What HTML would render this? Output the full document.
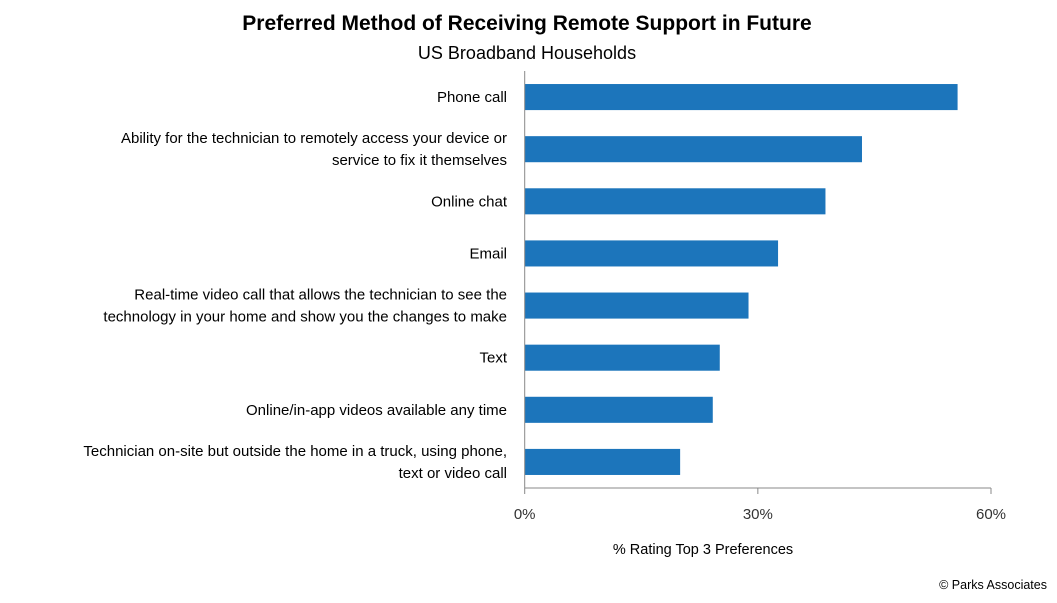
<!DOCTYPE html>
<html><head><meta charset="utf-8"><style>
body{margin:0;background:#fff;width:1057px;height:598px;overflow:hidden;font-family:"Liberation Sans",sans-serif}
svg text{font-family:"Liberation Sans",sans-serif}
</style></head><body>
<svg id="chart" width="1057" height="598" xmlns="http://www.w3.org/2000/svg">
<text x="527" y="30" text-anchor="middle" font-size="21" font-weight="bold" fill="#000">Preferred Method of Receiving Remote Support in Future</text>
<text x="527" y="59" text-anchor="middle" font-size="18" fill="#000">US Broadband Households</text>
<text x="703" y="554" text-anchor="middle" font-size="14.5" fill="#000">% Rating Top 3 Preferences</text>
<text x="1047" y="589" text-anchor="end" font-size="12.5" fill="#000">© Parks Associates</text>
<g id="plot"></g>
</svg>
<script>
const categories = [
 ["Phone call"],
 ["Ability for the technician to remotely access your device or","service to fix it themselves"],
 ["Online chat"],
 ["Email"],
 ["Real-time video call that allows the technician to see the","technology in your home and show you the changes to make"],
 ["Text"],
 ["Online/in-app videos available any time"],
 ["Technician on-site but outside the home in a truck, using phone,","text or video call"]
];
const values = [55.7, 43.4, 38.7, 32.6, 28.8, 25.1, 24.2, 20.0];
const tickValues = [0, 30, 60];
const tickLabels = ["0%", "30%", "60%"];

const NS = "http://www.w3.org/2000/svg";
const g = document.getElementById("plot");
const x0 = 524.7, x1 = 991, xMax = 60;
const yTop = 71, yBot = 488;
const xScale = v => x0 + (v / xMax) * (x1 - x0);
const band = (yBot - yTop) / categories.length;
const yScale = i => yTop + i * band;
function mk(tag, attrs){const e=document.createElementNS(NS,tag);for(const k in attrs)e.setAttribute(k,attrs[k]);g.appendChild(e);return e;}

values.forEach((v,i)=>{
  const y = yScale(i) + band*0.25;
  const r = mk("rect",{x:x0,y:y,width:xScale(v)-x0,height:band*0.5,fill:"#1c75bb"});
  
  
  const lines = categories[i];
  const cy = yScale(i) + band/2;
  lines.forEach((ln,j)=>{
    const t = mk("text",{x:507,y:cy + 5 + (j - (lines.length-1)/2)*22,"text-anchor":"end","font-size":"15",fill:"#000"});
    t.textContent = ln;
    
    
  });
});
const ya = mk("line",{x1:x0,y1:yTop,x2:x0,y2:yBot,stroke:"#888","stroke-width":1});


const xa = mk("line",{x1:x0,y1:yBot,x2:x1,y2:yBot,stroke:"#888","stroke-width":1});


tickValues.forEach((v,i)=>{
  const x = xScale(v);
  const tk = mk("line",{x1:x,y1:yBot,x2:x,y2:yBot+6,stroke:"#888","stroke-width":1});
  
  
  const t = mk("text",{x:x,y:519,"text-anchor":"middle","font-size":"15",fill:"#333"});
  t.textContent = tickLabels[i];
  
  
});
</script>
</body></html>
